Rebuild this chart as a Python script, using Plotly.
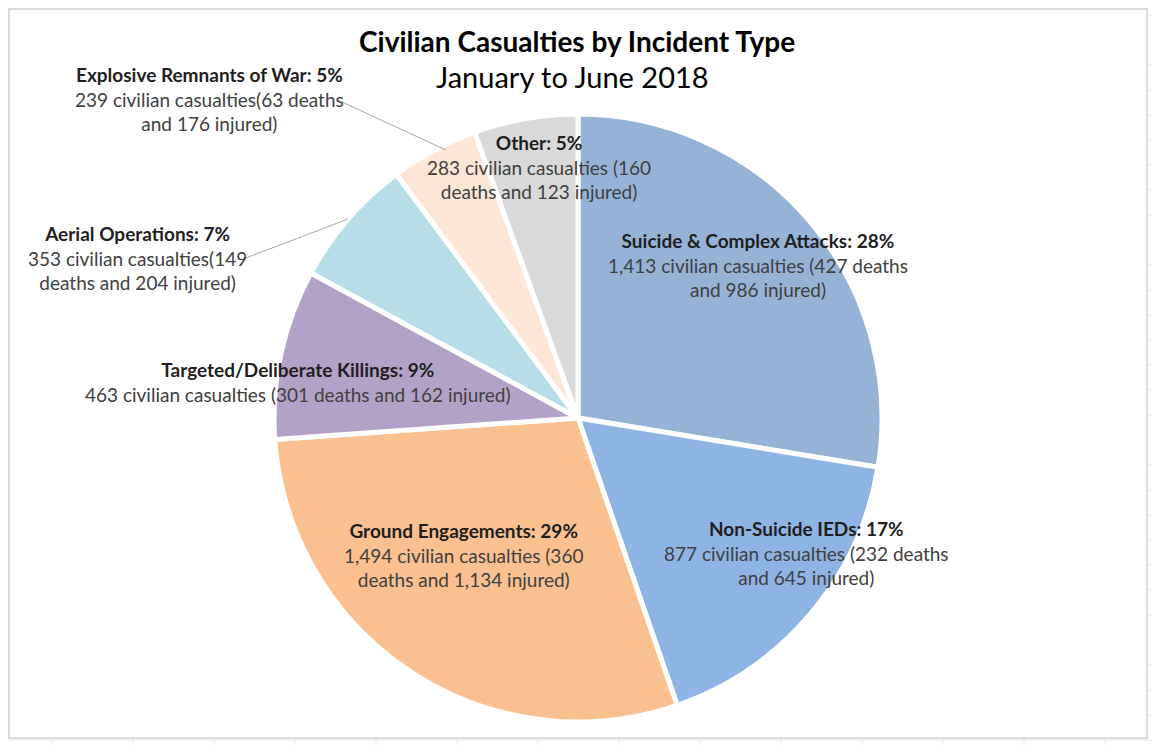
import plotly.graph_objects as go

# data (clockwise from 12 o'clock)
categories = ["Suicide & Complex Attacks", "Non-Suicide IEDs", "Ground Engagements",
              "Targeted/Deliberate Killings", "Aerial Operations",
              "Explosive Remnants of War", "Other"]
casualties = [1413, 877, 1494, 463, 353, 239, 283]
deaths = [427, 232, 360, 301, 149, 63, 160]
injured = [986, 645, 1134, 162, 204, 176, 123]
percent_labels = ["28%", "17%", "29%", "9%", "7%", "5%", "5%"]

colors = ["#95B3D7", "#8EB4E3", "#FAC090", "#B3A2C7", "#B7DEE8", "#FDE6D6", "#D9D9D9"]

# the page puts the plot 8px in from the top-left corner
OFF = 8
W, H = 1160 - OFF, 746 - OFF
FONT = "Lato"


def px(x, y):
    # screen pixel position -> paper coords
    return (x - OFF) / W, 1 - (y - OFF) / H


def body_text(i, sep, wrap_after):
    txt = f"{casualties[i]:,} civilian casualties{sep}({deaths[i]} deaths and {injured[i]:,} injured)"
    words = txt.split(" ")
    if wrap_after is None:
        return txt
    return " ".join(words[:wrap_after]) + "<br>" + " ".join(words[wrap_after:])


# label placement (pixel centre of each text block), separator before "(", wrap point
label_pos = [(758, 265), (806, 553), (463, 555), (298, 382), (137, 258), (209, 99), (539, 167)]
label_sep = [" ", " ", " ", " ", "", "", " "]
label_wrap = [5, 5, 4, None, 3, 4, 4]

cx, cy, r = 578, 418, 304
d0 = px(cx - r, cy + r)
d1 = px(cx + r, cy - r)

fig = go.Figure()
fig.add_trace(go.Pie(
    labels=categories,
    values=casualties,
    sort=False,
    direction="clockwise",
    rotation=0,
    marker=dict(colors=colors, line=dict(color="white", width=5)),
    textinfo="none",
    hovertemplate="%{label}: %{value:,}<extra></extra>",
    domain=dict(x=[d0[0], d1[0]], y=[d0[1], d1[1]]),
    showlegend=False,
))

annotations = []
for i, cat in enumerate(categories):
    x, y = px(*label_pos[i])
    txt = (f"<b><span style='color:#1f1f1f'>{cat}: {percent_labels[i]}</span></b><br>"
           + body_text(i, label_sep[i], label_wrap[i]))
    annotations.append(dict(x=x, y=y, xref="paper", yref="paper", text=txt, showarrow=False,
                            xanchor="center", yanchor="middle", align="center",
                            font=dict(family=FONT, size=19, color="#404040")))

# title and subtitle
tx, ty = px(577, 41)
annotations.append(dict(x=tx, y=ty, xref="paper", yref="paper", showarrow=False,
                        xanchor="center", yanchor="middle",
                        text="<b>Civilian Casualties by Incident Type</b>",
                        font=dict(family=FONT, size=28, color="black")))
sx, sy = px(572, 76)
annotations.append(dict(x=sx, y=sy, xref="paper", yref="paper", showarrow=False,
                        xanchor="center", yanchor="middle",
                        text="January to June 2018",
                        font=dict(family=FONT, size=29, color="black")))

shapes = []
# faint spreadsheet grid behind the chart area
for gx in range(52, 1160, 81):
    x = px(gx, 0)[0]
    shapes.append(dict(type="line", xref="paper", yref="paper", x0=x, x1=x, y0=0, y1=1,
                       line=dict(color="#EBEBEB", width=1), layer="below"))
for gy in range(15, 746, 25):
    y = px(0, gy)[1]
    shapes.append(dict(type="line", xref="paper", yref="paper", x0=0, x1=1, y0=y, y1=y,
                       line=dict(color="#EBEBEB", width=1), layer="below"))
# chart area with border
x0, y0 = px(9, 738)
x1, y1 = px(1147, 9)
shapes.append(dict(type="rect", xref="paper", yref="paper", x0=x0, y0=y0, x1=x1, y1=y1,
                   fillcolor="white", line=dict(color="#D0D0D0", width=1.5), layer="below"))

# leader lines for the two small slices
for (ax, ay), (bx, by) in [((342, 102), (446, 150)), ((246, 258), (348, 219))]:
    p0 = px(ax, ay)
    p1 = px(bx, by)
    shapes.append(dict(type="line", xref="paper", yref="paper", x0=p0[0], y0=p0[1], x1=p1[0], y1=p1[1],
                       line=dict(color="#A6A6A6", width=1)))

fig.update_layout(
    width=W, height=H,
    margin=dict(l=0, r=0, t=0, b=0),
    paper_bgcolor="white",
    plot_bgcolor="white",
    font=dict(family=FONT),
    annotations=annotations,
    shapes=shapes,
)

fig.write_html("out.html")
